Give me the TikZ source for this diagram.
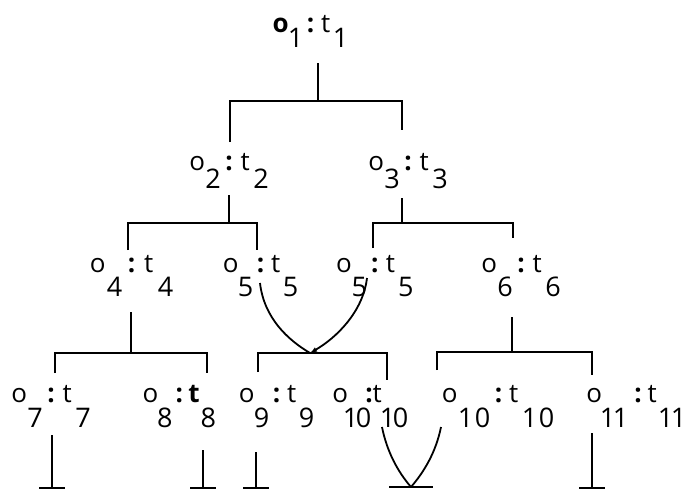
\documentclass[tikz,border=0pt]{standalone}
\usepackage{fontspec}
\newfontfamily\labfont{Open Sans}
\usetikzlibrary{arrows.meta}
\newlength\lpt \newlength\dpt \newlength\drp
\newcommand\LabO{\makebox[\lpt][c]{\fontsize{26}{26}\selectfont o}}
\newcommand\LabOb{\makebox[\lpt][c]{\fontsize{26}{26}\selectfont\bfseries o}}
\newcommand\LabC{\makebox[\lpt][c]{\fontsize{26}{26}\selectfont\bfseries :}}
\newcommand\LabT{\makebox[\lpt][c]{\fontsize{26}{26}\selectfont t}}
\newcommand\LabTb{\makebox[\lpt][c]{\fontsize{26}{26}\selectfont\bfseries t}}
\newcommand\LabD[1]{\makebox[\dpt][c]{\raisebox{-\drp}{\fontsize{27}{27}\selectfont #1}}}
\newcommand\olab[4]{\setlength\lpt{#1pt}\setlength\dpt{#2pt}\setlength\drp{#3pt}#4}
\begin{document}
\begin{tikzpicture}[x=1pt,y=-1pt,line width=2.4pt,
  lab/.style={anchor=base west,inner sep=0pt,font=\labfont},
  curve/.style={line width=1.8pt},
  tip/.style={-{Latex[length=7pt,width=5pt]}}]
\useasboundingbox (0,0) rectangle (689,490);
% labels
\node[lab] (n1) at (272,32) {\olab{15}{15}{15}{\LabOb\LabD1\LabC\LabT\LabD1}};
\node[lab] (n2) at (188,170) {\olab{16}{16}{18}{\LabO\LabD2\LabC\LabT\LabD2}};
\node[lab] (n3) at (367,170) {\olab{16}{16}{18}{\LabO\LabD3\LabC\LabT\LabD3}};
\node[lab] (n4) at (88,272) {\olab{17}{17}{24}{\LabO\LabD4\LabC\LabT\LabD4}};
\node[lab] (n5a) at (222,272) {\olab{15}{15}{24}{\LabO\LabD5\LabC\LabT\LabD5}};
\node[lab] (n5b) at (335,272) {\olab{15.5}{15.5}{24}{\LabO\LabD5\LabC\LabT\LabD5}};
\node[lab] (n6) at (480,272) {\olab{16}{16}{24}{\LabO\LabD6\LabC\LabT\LabD6}};
\node[lab] (n7) at (10,402) {\olab{16}{16}{25}{\LabO\LabD7\LabC\LabT\LabD7}};
\node[lab] (n8) at (142,402) {\olab{14.5}{14.5}{25}{\LabO\LabD8\LabC\LabTb\LabD8}};
\node[lab] (n9) at (238,402) {\olab{15}{15}{25}{\LabO\LabD9\LabC\LabT\LabD9}};
\node[lab] (n10a) at (335,402) {\olab{8}{13}{25}{\LabO\LabD1\LabD0\kern-5pt\LabC\LabT\LabD1\LabD0}};
\node[lab] (n10b) at (441,402) {\olab{15}{17}{25}{\LabO\LabD1\LabD0\LabC\LabT\LabD1\LabD0}};
\node[lab] (n11) at (586,402) {\olab{14}{13}{25}{\LabO\LabD1\LabD1\kern4pt\LabC\LabT\LabD1\LabD1}};
% connector points
\coordinate (s1) at (318,63);  \coordinate (j1) at (318,101);
\coordinate (a2) at (230,142); \coordinate (a3) at (402,130);
\coordinate (s2) at (229,195); \coordinate (j2) at (229,223);
\coordinate (a4) at (128,250); \coordinate (a5a) at (257,250);
\coordinate (s3) at (402,198); \coordinate (j3) at (402,223);
\coordinate (a5b) at (373,248); \coordinate (a6) at (513,238);
\coordinate (s4) at (131,312); \coordinate (j4) at (131,353);
\coordinate (a7) at (55,373);  \coordinate (a8) at (207,373);
\coordinate (c5a) at (260,283); \coordinate (c5b) at (367,278);
\coordinate (j5) at (310,353);
\coordinate (a9) at (258,372); \coordinate (a10a) at (387,380);
\coordinate (s6) at (512,317); \coordinate (j6) at (512,352);
\coordinate (a10b) at (437,370); \coordinate (a11) at (592,375);
\coordinate (t7) at (52,435);  \coordinate (u7) at (52,488);
\coordinate (t8) at (203,450); \coordinate (u8) at (203,488);
\coordinate (t9) at (256,452); \coordinate (u9) at (256,488);
\coordinate (v1) at (382,427); \coordinate (v2) at (441,427);
\coordinate (u10) at (411,487);
\coordinate (t11) at (592,433); \coordinate (u11) at (592,488);
% brackets
\draw (s1) -- (j1);  \draw (a2) |- (j1) -| (a3);
\draw (s2) -- (j2);  \draw (a4) |- (j2) -| (a5a);
\draw (s3) -- (j3);  \draw (a5b) |- (j3) -| (a6);
\draw (s4) -- (j4);  \draw (a7) |- (j4) -| (a8);
\draw (a9) |- (j5) -| (a10a);
\draw (s6) -- (j6);  \draw (a10b) |- (j6) -| (a11);
% merging curves
\draw[curve] (c5a) .. controls (264,318) and (288,340) .. (j5);
\draw[curve,tip] (c5b) .. controls (363,312) and (336,338) .. (j5);
% leaf stubs
\draw (t7) -- (u7);  \draw ([xshift=-13pt]u7) -- ([xshift=13pt]u7);
\draw (t8) -- (u8);  \draw ([xshift=-13pt]u8) -- ([xshift=13pt]u8);
\draw (t9) -- (u9);  \draw ([xshift=-13pt]u9) -- ([xshift=13pt]u9);
\draw[curve] (v1) .. controls (387,452) and (398,472) .. (u10);
\draw[curve] (v2) .. controls (436,452) and (424,472) .. (u10);
\draw ([xshift=-22pt]u10) -- ([xshift=22pt]u10);
\draw (t11) -- (u11); \draw ([xshift=-13pt]u11) -- ([xshift=13pt]u11);
\end{tikzpicture}
\end{document}
